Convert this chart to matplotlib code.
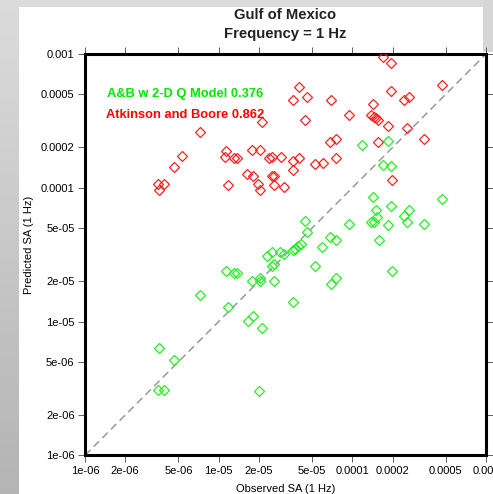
import numpy as np
import matplotlib
matplotlib.use("Agg")
from matplotlib import pyplot as plt
from matplotlib.colors import LinearSegmentedColormap
from matplotlib.patches import Rectangle

plt.rcParams['font.family'] = ['Liberation Sans', 'DejaVu Sans']

# observed vs predicted SA at 1 Hz (same observed values for both models)
ab_obs = [1.71e-4, 1.95e-4, 4.7e-4, 4.0e-5, 4.6e-5, 3.6e-5, 6.9e-5, 1.95e-4, 1.43e-4, 2.43e-4,
          2.64e-4, 4.4e-5, 9.5e-5, 1.39e-4, 1.45e-4, 1.51e-4, 1.55e-4, 1.85e-4, 2.56e-4, 2.1e-5,
          7.2e-6, 5.3e-6, 4.6e-6, 3.5e-6, 3.9e-6, 3.6e-6, 1.14e-5, 1.12e-5, 1.30e-5, 1.36e-5,
          1.79e-5, 2.03e-5, 2.37e-5, 2.51e-5, 2.91e-5, 3.6e-5, 4.0e-5, 3.6e-5, 1.18e-5, 1.64e-5,
          1.8e-5, 2.5e-5, 2.6e-5, 1.98e-5, 2.05e-5, 2.6e-5, 3.1e-5, 5.3e-5, 6.0e-5, 7.5e-5,
          6.8e-5, 7.5e-5, 1.56e-4, 3.44e-4, 1.98e-4]
ab_pred = [9.5e-4, 8.6e-4, 5.9e-4, 5.7e-4, 4.8e-4, 4.5e-4, 4.5e-4, 5.3e-4, 4.2e-4, 4.5e-4,
           4.8e-4, 3.2e-4, 3.5e-4, 3.5e-4, 3.4e-4, 3.3e-4, 3.2e-4, 2.9e-4, 2.8e-4, 3.1e-4,
           2.6e-4, 1.73e-4, 1.42e-4, 1.07e-4, 1.06e-4, 9.6e-5, 1.88e-4, 1.70e-4, 1.68e-4, 1.66e-4,
           1.93e-4, 1.93e-4, 1.66e-4, 1.71e-4, 1.70e-4, 1.59e-4, 1.66e-4, 1.35e-4, 1.05e-4, 1.27e-4,
           1.23e-4, 1.23e-4, 1.22e-4, 1.06e-4, 9.6e-5, 1.04e-4, 1.01e-4, 1.50e-4, 1.53e-4, 1.68e-4,
           2.2e-4, 2.3e-4, 2.2e-4, 2.3e-4, 1.15e-4]

q_obs = [1.18e-4, 1.85e-4, 1.71e-4, 1.95e-4, 1.43e-4, 4.7e-4, 1.50e-4, 1.53e-4, 1.95e-4, 2.44e-4,
         2.64e-4, 1.39e-4, 1.44e-4, 1.85e-4, 2.56e-4, 3.46e-4, 9.5e-5, 4.4e-5, 4.6e-5, 4.1e-5,
         3.9e-5, 3.7e-5, 3.6e-5, 3.1e-5, 2.9e-5, 2.5e-5, 2.3e-5, 2.6e-5, 2.5e-5, 6.8e-5,
         7.5e-5, 5.9e-5, 1.57e-4, 5.3e-5, 1.98e-4, 6.9e-5, 7.5e-5, 3.6e-5, 2.6e-5, 1.78e-5,
         2.04e-5, 2.05e-5, 1.14e-5, 1.30e-5, 1.36e-5, 7.2e-6, 1.18e-5, 1.66e-5, 1.8e-5, 2.1e-5,
         3.6e-6, 4.6e-6, 3.5e-6, 3.9e-6, 2.0e-5]
q_pred = [2.09e-4, 2.23e-4, 1.49e-4, 1.46e-4, 8.5e-5, 8.3e-5, 6.8e-5, 6.0e-5, 7.3e-5, 6.2e-5,
          6.8e-5, 5.5e-5, 5.5e-5, 5.3e-5, 5.5e-5, 5.4e-5, 5.4e-5, 5.6e-5, 4.7e-5, 3.8e-5,
          3.7e-5, 3.5e-5, 3.4e-5, 3.2e-5, 3.3e-5, 3.3e-5, 3.1e-5, 2.7e-5, 2.6e-5, 4.3e-5,
          4.1e-5, 3.6e-5, 4.1e-5, 2.6e-5, 2.4e-5, 1.9e-5, 2.1e-5, 1.4e-5, 2.0e-5, 2.0e-5,
          2.1e-5, 2.0e-5, 2.4e-5, 2.3e-5, 2.3e-5, 1.58e-5, 1.29e-5, 1.01e-5, 1.1e-5, 8.9e-6,
          6.3e-6, 5.2e-6, 3.1e-6, 3.1e-6, 3.0e-6]

ticks = [1e-6, 2e-6, 5e-6, 1e-5, 2e-5, 5e-5, 1e-4, 2e-4, 5e-4, 1e-3]
tick_labels = ['1e-06', '2e-06', '5e-06', '1e-05', '2e-05', '5e-05',
               '0.0001', '0.0002', '0.0005', '0.001']

W, H = 493, 494
fig = plt.figure(figsize=(W / 100, H / 100), dpi=100)

# grey backdrop with white page
bg = fig.add_axes([0, 0, 1, 1], zorder=-10)
grad = np.linspace(0, 1, 256).reshape(-1, 1)
cmap = LinearSegmentedColormap.from_list('bg', ['#dcdcdc', '#b4b4b4'])
bg.imshow(grad, cmap=cmap, aspect='auto', extent=[0, 1, 0, 1], origin='upper')
bg.add_patch(Rectangle((19 / W, 0), 1, 1 - 7 / H, color='white', lw=0))
bg.add_patch(Rectangle((483 / W, 1 - 52 / H), 1, 1, color='#d6d6d6', lw=0))
bg.set_xlim(0, 1)
bg.set_ylim(0, 1)
bg.axis('off')

ax = fig.add_axes([85 / W, 38.7 / H, 401 / W, 401.3 / H])
ax.set_facecolor('none')
ax.set_xscale('log')
ax.set_yscale('log')
ax.set_xlim(1e-6, 1e-3)
ax.set_ylim(1e-6, 1e-3)

ax.plot([1e-6, 1e-3], [1e-6, 1e-3], ls=(0, (5, 3)), color='#999999', lw=1.1, zorder=1)
ax.plot(ab_obs, ab_pred, 'D', ms=4.6, mfc='none', mec='#ff2020', mew=0.9, ls='none', zorder=3)
ax.plot(q_obs, q_pred, 'D', ms=4.6, mfc='none', mec='#22f022', mew=0.9, ls='none', zorder=3)

ax.set_xticks(ticks)
ax.set_xticklabels(tick_labels)
ax.set_yticks(ticks)
ax.set_yticklabels(tick_labels)
ax.minorticks_off()
ax.tick_params(which='both', direction='out', length=5, width=0.6, color='#444444',
               top=True, right=True, labelsize=8, pad=2.5)
for sp in ax.spines.values():
    sp.set_linewidth(2.2)
    sp.set_color('black')

ax.set_xlabel('Observed SA (1 Hz)', fontsize=8)
ax.set_ylabel('Predicted SA (1 Hz)', fontsize=8)
ax.xaxis.set_label_coords(0.5, -0.0715)
ax.yaxis.set_label_coords(-0.128, 0.524)

ax.text(0.055, 0.8996, 'A&B w 2-D Q Model 0.376', transform=ax.transAxes, color='#00e600',
        fontsize=9.3, fontweight='bold', va='center', ha='left')
ax.text(0.053, 0.8487, 'Atkinson and Boore 0.862', transform=ax.transAxes, color='#ff0000',
        fontsize=9.3, fontweight='bold', va='center', ha='left')

xc = (85 + 401 / 2) / W
fig.text(xc, 1 - 15 / H, 'Gulf of Mexico', ha='center', va='center', fontsize=10.7,
         fontweight='bold', color='#222222')
fig.text(xc, 1 - 34 / H, 'Frequency = 1 Hz', ha='center', va='center', fontsize=10.7,
         fontweight='bold', color='#222222')

fig.savefig('out.png', dpi=100)
